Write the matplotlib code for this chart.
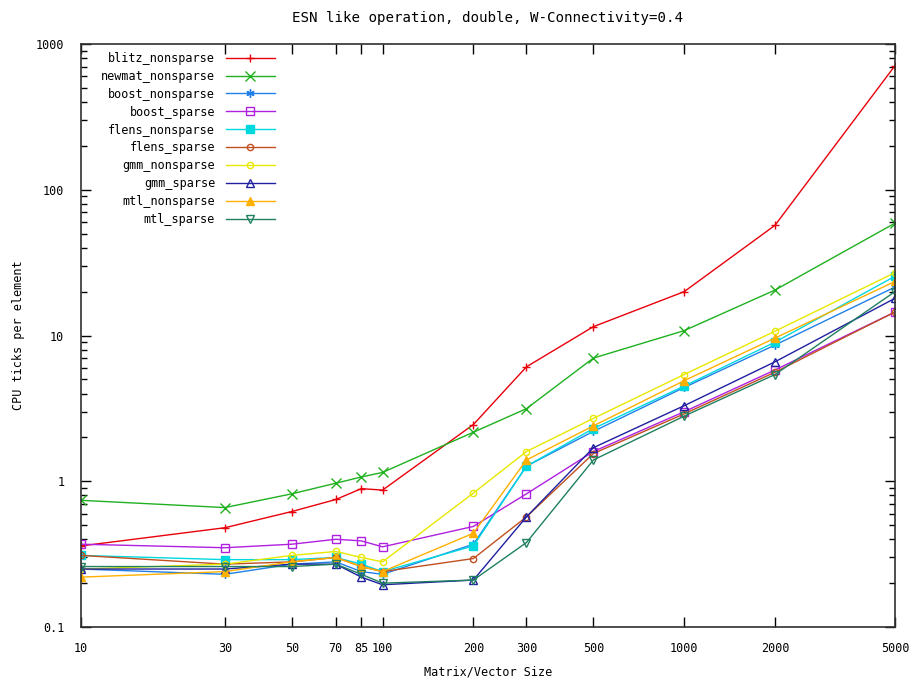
import matplotlib
matplotlib.use('Agg')
import matplotlib.pyplot as plt
from matplotlib.ticker import FixedLocator, LogLocator, NullFormatter, NullLocator

plt.rcParams['font.family'] = 'DejaVu Sans Mono'
plt.rcParams['font.size'] = 8.5

sizes = [10, 30, 50, 70, 85, 100, 200, 300, 500, 1000, 2000, 5000]
x_ticks = [10, 30, 50, 70, 85, 100, 200, 300, 500, 1000, 2000, 5000]
x_tick_labels = ['10', '30', '50', '70', '85', '100', '200', '300', '500', '1000', '2000', '5000']

blitz_nonsparse = [0.36, 0.48, 0.62, 0.75, 0.89, 0.87, 2.45, 6.1, 11.5, 20.0, 57, 710]
newmat_nonsparse = [0.74, 0.66, 0.82, 0.97, 1.07, 1.15, 2.17, 3.15, 7.0, 10.8, 20.5, 59]
boost_nonsparse = [0.25, 0.23, 0.27, 0.28, 0.24, 0.23, 0.37, 1.27, 2.2, 4.4, 8.6, 21.5]
boost_sparse = [0.37, 0.35, 0.37, 0.40, 0.39, 0.355, 0.49, 0.82, 1.6, 3.0, 5.8, 14.5]
flens_nonsparse = [0.31, 0.29, 0.29, 0.30, 0.27, 0.24, 0.36, 1.27, 2.3, 4.5, 9.0, 25.5]
flens_sparse = [0.31, 0.27, 0.28, 0.30, 0.26, 0.24, 0.295, 0.57, 1.55, 2.9, 5.6, 14.5]
gmm_nonsparse = [0.25, 0.27, 0.31, 0.33, 0.30, 0.28, 0.83, 1.6, 2.7, 5.4, 10.7, 27]
gmm_sparse = [0.25, 0.25, 0.27, 0.27, 0.22, 0.195, 0.21, 0.57, 1.7, 3.3, 6.6, 18]
mtl_nonsparse = [0.22, 0.24, 0.28, 0.30, 0.26, 0.24, 0.44, 1.4, 2.4, 4.9, 9.6, 23.5]
mtl_sparse = [0.26, 0.26, 0.26, 0.27, 0.23, 0.20, 0.21, 0.38, 1.4, 2.8, 5.4, 20]

series = [
    ('blitz_nonsparse', blitz_nonsparse, '#e8000b', '+', True),
    ('newmat_nonsparse', newmat_nonsparse, '#20b020', 'x', True),
    ('boost_nonsparse', boost_nonsparse, '#2080e8', (6, 2, 0), True),
    ('boost_sparse', boost_sparse, '#b020e0', 's', False),
    ('flens_nonsparse', flens_nonsparse, '#00d8e0', 's', True),
    ('flens_sparse', flens_sparse, '#c05020', 'o', False),
    ('gmm_nonsparse', gmm_nonsparse, '#e8e800', 'o', False),
    ('gmm_sparse', gmm_sparse, '#2020a0', '^', False),
    ('mtl_nonsparse', mtl_nonsparse, '#ffb000', '^', True),
    ('mtl_sparse', mtl_sparse, '#208060', 'v', False),
]

fig = plt.figure(figsize=(9.14, 6.82), dpi=100)
ax = fig.add_axes([0.0886, 0.0806, 0.8906, 0.8549])

for name, vals, color, marker, filled in series:
    msize = 6
    if marker == 's':
        msize = 5.5
    if marker == 'o':
        msize = 4.5
    if marker == 'x':
        msize = 7
    ax.plot(sizes, vals, color=color, linewidth=1.0, marker=marker,
            markersize=msize, markeredgewidth=1.0,
            markerfacecolor=color if filled else 'none',
            markeredgecolor=color, label=name)

ax.set_xscale('log')
ax.set_yscale('log')
ax.set_xlim(10, 5000)
ax.set_ylim(0.1, 1000)

ax.xaxis.set_major_locator(FixedLocator(x_ticks))
ax.set_xticklabels(x_tick_labels)
ax.xaxis.set_minor_locator(NullLocator())
ax.yaxis.set_major_locator(LogLocator(base=10))
ax.yaxis.set_minor_locator(LogLocator(base=10, subs=range(2, 10)))
ax.yaxis.set_minor_formatter(NullFormatter())
ax.set_yticks([0.1, 1, 10, 100, 1000])
ax.set_yticklabels(['0.1', '1', '10', '100', '1000'])

ax.tick_params(which='major', direction='in', length=7, width=1, top=True, right=True)
ax.tick_params(axis='x', which='major', pad=11)
ax.tick_params(axis='y', which='major', pad=12)
ax.tick_params(which='minor', direction='in', length=4, width=1, top=True, right=True)
for s in ax.spines.values():
    s.set_linewidth(1.2)
    s.set_color('#303030')

ax.set_title('ESN like operation, double, W-Connectivity=0.4', pad=16)
ax.set_xlabel('Matrix/Vector Size', labelpad=7)
ax.set_ylabel('CPU ticks per element', labelpad=8)

ax.legend(loc='upper left', frameon=False, markerfirst=False, handlelength=4.2,
          labelspacing=0.42, borderaxespad=0.4, handletextpad=0.9,
          bbox_to_anchor=(0.013, 1.003))

fig.savefig('out.png', dpi=100)
